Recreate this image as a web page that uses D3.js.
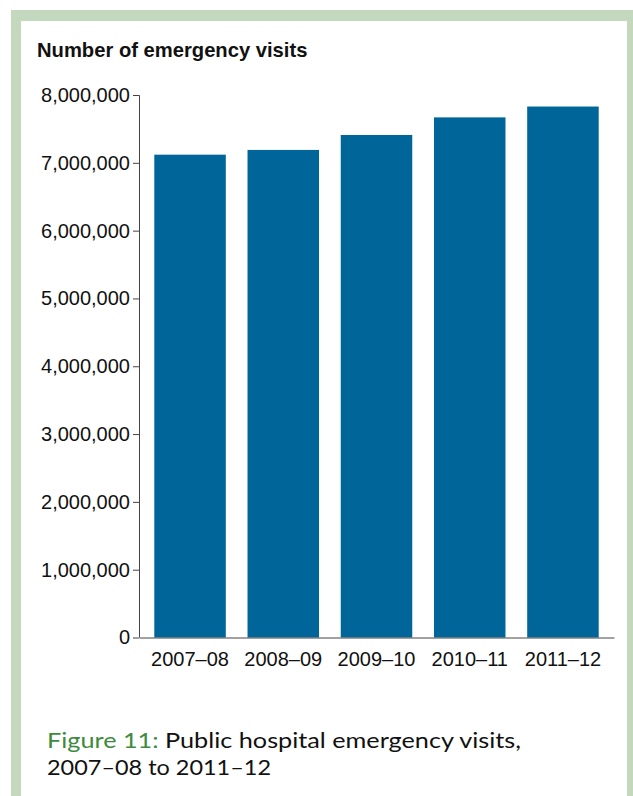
<!DOCTYPE html>
<html>
<head>
<meta charset="utf-8">
<script src="https://cdn.jsdelivr.net/npm/d3@7"></script>
<style>
  html, body { margin: 0; padding: 0; background: #fff; }
  svg { display: block; }
</style>
</head>
<body>
<svg id="chart" width="633" height="796"></svg>
<script>
const categories = ["2007–08", "2008–09", "2009–10", "2010–11", "2011–12"];
const visits = [7120000, 7190000, 7410000, 7670000, 7830000];
const yTicks = [0, 1000000, 2000000, 3000000, 4000000, 5000000, 6000000, 7000000, 8000000];
const titleText = "Number of emergency visits";
const captionLabel = "Figure 11:";
const captionLine1 = " Public hospital emergency visits,";
const captionLine2 = "2007–08 to 2011–12";

const svg = d3.select("#chart");

// frame
svg.append("rect").attr("x", 11).attr("y", 10).attr("width", 622).attr("height", 786).attr("fill", "#c4d8be");
svg.append("rect").attr("x", 21).attr("y", 21).attr("width", 606).attr("height", 775).attr("fill", "#ffffff");

const x = d3.scaleBand().domain(categories).range([139, 614]).paddingInner(0.233).paddingOuter(0.164);
const y = d3.scaleLinear().domain([0, 8000000]).range([637.5, 95]);

// bars
svg.append("g").selectAll("rect").data(visits).join("rect")
  .attr("x", (d, i) => x(categories[i]))
  .attr("y", d => y(d))
  .attr("width", x.bandwidth())
  .attr("height", d => y(0) - y(d))
  .attr("fill", "#006699");

// y axis
const yAxis = svg.append("g").attr("transform", "translate(139,0)")
  .call(d3.axisLeft(y).tickValues(yTicks).tickSize(6).tickPadding(3).tickFormat(d3.format(",")));
yAxis.select(".domain").attr("stroke", "#444").attr("d", "M-6,95.5H0.5V637.5");
yAxis.selectAll(".tick line").attr("stroke", "#444");
yAxis.selectAll(".tick text").attr("fill", "#111").style("font-family", "'Liberation Sans', Arial, sans-serif").style("font-size", "20px");

// x axis
const xAxis = svg.append("g").attr("transform", "translate(0,637.5)")
  .call(d3.axisBottom(x).tickSize(0).tickPadding(14));
xAxis.select(".domain").attr("stroke", "#444");
xAxis.selectAll(".tick text").attr("fill", "#111").style("font-family", "'Liberation Sans', Arial, sans-serif").style("font-size", "20px");

// title
svg.append("text").attr("x", 37).attr("y", 57)
  .style("font-family", "'Liberation Sans', Arial, sans-serif").style("font-size", "20.2px").style("font-weight", "bold")
  .attr("fill", "#111").text(titleText);

// caption
const cap = svg.append("text").attr("x", 47).attr("y", 748)
  .attr("textLength", 474).attr("lengthAdjust", "spacingAndGlyphs")
  .style("font-family", "Lato, sans-serif").style("font-size", "22px");
cap.append("tspan").attr("fill", "#3d8b3d").text(captionLabel);
cap.append("tspan").attr("fill", "#111").text(captionLine1);
svg.append("text").attr("x", 47).attr("y", 775)
  .attr("textLength", 224).attr("lengthAdjust", "spacingAndGlyphs")
  .style("font-family", "Lato, sans-serif").style("font-size", "22px")
  .attr("fill", "#111").text(captionLine2);
</script>
</body>
</html>
